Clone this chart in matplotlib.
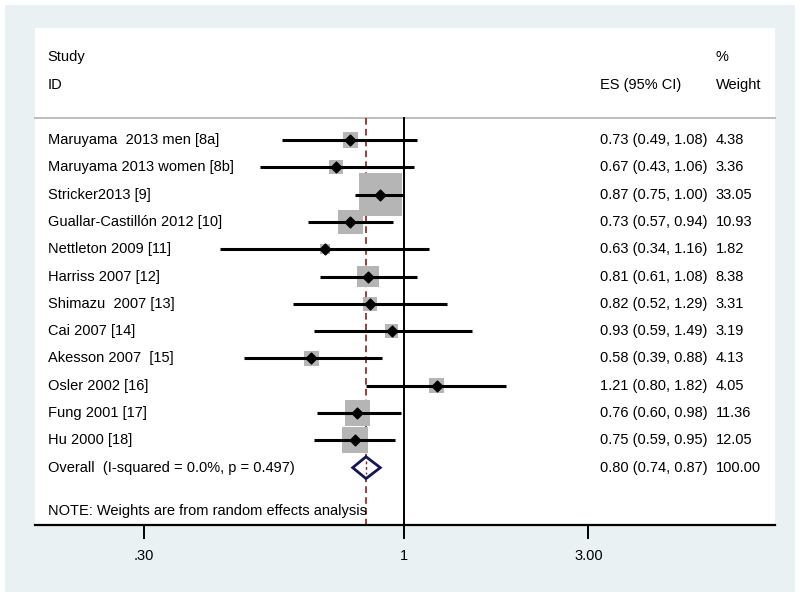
import numpy as np
import matplotlib.pyplot as plt
from matplotlib.patches import Rectangle, Polygon
from matplotlib.transforms import blended_transform_factory

plt.rcParams['font.family'] = ['Liberation Sans', 'DejaVu Sans']

studies = ["Maruyama  2013 men [8a]", "Maruyama 2013 women [8b]", "Stricker2013 [9]",
           "Guallar-Castillón 2012 [10]", "Nettleton 2009 [11]", "Harriss 2007 [12]",
           "Shimazu  2007 [13]", "Cai 2007 [14]", "Akesson 2007  [15]", "Osler 2002 [16]",
           "Fung 2001 [17]", "Hu 2000 [18]"]
es = [0.73, 0.67, 0.87, 0.73, 0.63, 0.81, 0.82, 0.93, 0.58, 1.21, 0.76, 0.75]
lo = [0.49, 0.43, 0.75, 0.57, 0.34, 0.61, 0.52, 0.59, 0.39, 0.80, 0.60, 0.59]
hi = [1.08, 1.06, 1.00, 0.94, 1.16, 1.08, 1.29, 1.49, 0.88, 1.82, 0.98, 0.95]
weight = [4.38, 3.36, 33.05, 10.93, 1.82, 8.38, 3.31, 3.19, 4.13, 4.05, 11.36, 12.05]

overall_label = "Overall  (I-squared = 0.0%, p = 0.497)"
overall_es, overall_lo, overall_hi = 0.80, 0.74, 0.87
note = "NOTE: Weights are from random effects analysis"

# axis ticks as drawn in the original (the .30 label sits left of true 0.3)
tick_vals = [0.217, 1, 2.95]
tick_labels = [".30", "1", "3.00"]

W, H = 800, 597
fig = plt.figure(figsize=(8, 5.97), dpi=100)
fig.patch.set_facecolor('white')
bg = Rectangle((5 / W, 5 / H), 790 / W, 587 / H, transform=fig.transFigure,
               facecolor='#e9f1f3', edgecolor='none', zorder=-10)
fig.add_artist(bg)

ax = fig.add_axes([35 / W, (H - 525) / H, 740 / W, 497 / H])
ax.set_zorder(1)
ax.set_facecolor('white')
ax.set_xscale('log')
ax.set_xlim(0.1148, 8.81)
ax.set_ylim(14.1, -4.1)

for s in ['top', 'left', 'right']:
    ax.spines[s].set_visible(False)
ax.spines['bottom'].set_linewidth(1.6)
ax.set_yticks([])
ax.set_xticks(tick_vals)
ax.set_xticklabels(tick_labels, fontsize=10.5)
ax.xaxis.set_minor_locator(plt.NullLocator())
ax.tick_params(axis='x', length=10, width=1.4, direction='out', pad=7)

n = len(studies)
rows = np.arange(n)
trans = blended_transform_factory(ax.transAxes, ax.transData)

# header
fs = 10.5
ax.text(0.017, -3.05, "Study", transform=trans, fontsize=fs, va='center')
ax.text(0.017, -2.02, "ID", transform=trans, fontsize=fs, va='center')
ax.text(0.763, -2.02, "ES (95% CI)", transform=trans, fontsize=fs, va='center')
ax.text(0.92, -3.05, "%", transform=trans, fontsize=fs, va='center')
ax.text(0.92, -2.02, "Weight", transform=trans, fontsize=fs, va='center')
ax.plot([0, 1], [-0.8, -0.8], transform=trans, color='#bdbdbd', lw=1.4, clip_on=False)

# reference lines
ax.plot([1, 1], [-0.8, 14.1], color='black', lw=1.4, zorder=2)
ax.plot([overall_es, overall_es], [-0.8, 14.1], color='#8b1c1c', lw=1.2,
        dashes=(4, 2.5), zorder=2)

# squares sized by weight
side_px = 43 * np.sqrt(np.array(weight) / max(weight))
ax.scatter(es, rows, marker='s', s=(side_px * 0.72) ** 2, color='#b5b5b5',
           edgecolors='none', zorder=3)
ax.hlines(rows, lo, hi, color='black', lw=2.2, zorder=4)
ax.scatter(es, rows, marker='D', s=30, color='black', zorder=5)

for i in range(n):
    ax.text(0.017, rows[i], studies[i], transform=trans, fontsize=fs, va='center')
    ax.text(0.763, rows[i], "%.2f (%.2f, %.2f)" % (es[i], lo[i], hi[i]),
            transform=trans, fontsize=fs, va='center')
    ax.text(0.92, rows[i], "%.2f" % weight[i], transform=trans, fontsize=fs, va='center')

# overall diamond
yo = n
dia = Polygon([[overall_lo, yo], [overall_es, yo - 0.4], [overall_hi, yo],
               [overall_es, yo + 0.4]], closed=True, facecolor='white',
              edgecolor='#14145f', lw=2, zorder=6)
ax.add_patch(dia)
ax.plot([overall_es, overall_es], [yo - 0.25, yo + 0.25], color='#8b1c1c', lw=1.0,
        dashes=(2, 2), zorder=7)
ax.text(0.017, yo, overall_label, transform=trans, fontsize=fs, va='center')
ax.text(0.763, yo, "%.2f (%.2f, %.2f)" % (overall_es, overall_lo, overall_hi),
        transform=trans, fontsize=fs, va='center')
ax.text(0.92, yo, "100.00", transform=trans, fontsize=fs, va='center')

ax.text(0.017, 13.6, note, transform=trans, fontsize=fs, va='center')

fig.savefig('out.png', dpi=100, facecolor=fig.get_facecolor())
